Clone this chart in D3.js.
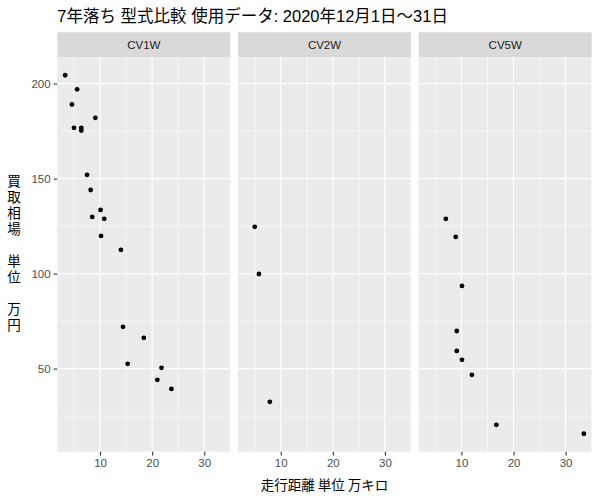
<!DOCTYPE html>
<html><head><meta charset="utf-8">
<script src="https://cdn.jsdelivr.net/npm/d3@7"></script>
<style>body{margin:0;background:#fff}</style></head>
<body><svg id="c" width="600" height="500"></svg>
<script>
// ---- data ----
const panelNames = ["CV1W", "CV2W", "CV5W"];
const cv1wDistance = [3.3, 5.6, 4.6, 9.1, 5.0, 6.4, 6.4, 7.5, 8.2, 10.1, 8.5, 10.8, 10.2, 14.0, 14.4, 18.4, 15.3, 21.8, 21.0, 23.7];
const cv1wPrice    = [204.4, 197, 189, 182, 176.7, 176.7, 175.3, 152, 144, 133.5, 129.8, 128.8, 119.8, 112.5, 72, 66.2, 52.5, 50.4, 44.1, 39.3];
const cv2wDistance = [5.0, 5.8, 7.9];
const cv2wPrice    = [124.6, 99.8, 32.5];
const cv5wDistance = [7.0, 8.9, 10.1, 9.1, 9.1, 10.1, 12.0, 16.7, 33.5];
const cv5wPrice    = [128.8, 119.3, 93.5, 69.8, 59.3, 54.6, 46.7, 20.4, 15.7];
const xTicks = [10, 20, 30];
const xMinor = [5, 15, 25, 35];
const yTicks = [50, 100, 150, 200];
const yMinor = [25, 75, 125, 175];
const titleText = "7年落ち 型式比較 使用データ: 2020年12月1日～31日";
const xTitle = "走行距離 単位 万キロ";
const yTitle = "買取相場\u3000単位\u3000万円";

const series = [
  {name: panelNames[0], xs: cv1wDistance, ys: cv1wPrice},
  {name: panelNames[1], xs: cv2wDistance, ys: cv2wPrice},
  {name: panelNames[2], xs: cv5wDistance, ys: cv5wPrice}
];

// ---- layout ----
const svg = d3.select("#c");
const plotL = 57.3, plotR = 591.7, gap = 7.7;
const pw = (plotR - plotL - 2 * gap) / 3;
const stripTop = 32.3, panelTop = 57.3, panelBottom = 451.7;
const fontLatin = "'Liberation Sans', Arial, 'Noto Sans CJK JP', sans-serif";
const fontJP = "'Noto Sans CJK JP', 'Liberation Sans', sans-serif";

const allX = series.flatMap(s => s.xs), allY = series.flatMap(s => s.ys);
function expand(ext) { const d = (ext[1] - ext[0]) * 0.05; return [ext[0] - d, ext[1] + d]; }
const x = d3.scaleLinear().domain(expand(d3.extent(allX))).range([0, pw]);
const y = d3.scaleLinear().domain(expand(d3.extent(allY))).range([panelBottom, panelTop]);

// title
svg.append("text").attr("x", plotL).attr("y", 22)
  .attr("font-family", fontLatin).attr("font-size", 16.5).attr("fill", "#000")
  .text(titleText);

series.forEach((s, i) => {
  const left = plotL + i * (pw + gap);
  const g = svg.append("g").attr("transform", `translate(${left},0)`);
  // strip
  g.append("rect").attr("x", 0).attr("y", stripTop).attr("width", pw).attr("height", panelTop - stripTop).attr("fill", "#D9D9D9");
  g.append("text").attr("x", pw / 2).attr("y", (stripTop + panelTop) / 2).attr("dy", "0.35em")
    .attr("text-anchor", "middle").attr("font-family", fontLatin).attr("font-size", 11.5).attr("fill", "#1A1A1A").text(s.name);
  // panel
  g.append("rect").attr("x", 0).attr("y", panelTop).attr("width", pw).attr("height", panelBottom - panelTop).attr("fill", "#EBEBEB");
  const xd = x.domain(), yd = y.domain();
  // minor grid
  g.selectAll(".ymin").data(yMinor.filter(v => v > yd[0] && v < yd[1])).join("line")
    .attr("x1", 0).attr("x2", pw).attr("y1", d => y(d)).attr("y2", d => y(d)).attr("stroke", "#fff").attr("stroke-width", 0.55);
  g.selectAll(".xmin").data(xMinor.filter(v => v > xd[0] && v < xd[1])).join("line")
    .attr("y1", panelTop).attr("y2", panelBottom).attr("x1", d => x(d)).attr("x2", d => x(d)).attr("stroke", "#fff").attr("stroke-width", 0.55);
  // major grid
  g.selectAll(".ymaj").data(yTicks).join("line")
    .attr("x1", 0).attr("x2", pw).attr("y1", d => y(d)).attr("y2", d => y(d)).attr("stroke", "#fff").attr("stroke-width", 1.1);
  g.selectAll(".xmaj").data(xTicks).join("line")
    .attr("y1", panelTop).attr("y2", panelBottom).attr("x1", d => x(d)).attr("x2", d => x(d)).attr("stroke", "#fff").attr("stroke-width", 1.1);
  // x axis
  const xa = g.append("g").attr("transform", `translate(0,${panelBottom})`)
    .call(d3.axisBottom(x).tickValues(xTicks).tickSize(3.7).tickPadding(3));
  xa.select(".domain").remove();
  xa.selectAll("line").attr("stroke", "#333").attr("stroke-width", 1.1);
  xa.selectAll("text").attr("font-family", fontLatin).attr("font-size", 11.5).attr("fill", "#4D4D4D");
  // y axis on first panel
  if (i === 0) {
    const ya = g.append("g").call(d3.axisLeft(y).tickValues(yTicks).tickSize(3.7).tickPadding(3));
    ya.select(".domain").remove();
    ya.selectAll("line").attr("stroke", "#333").attr("stroke-width", 1.1);
    ya.selectAll("text").attr("font-family", fontLatin).attr("font-size", 11.5).attr("fill", "#4D4D4D");
  }
  // points
  g.selectAll("circle").data(s.xs.map((v, k) => [v, s.ys[k]])).join("circle")
    .attr("cx", d => x(d[0])).attr("cy", d => y(d[1])).attr("r", 2.4).attr("fill", "#000");
});

// axis titles
svg.append("text").attr("x", (plotL + plotR) / 2).attr("y", 490)
  .attr("text-anchor", "middle").attr("font-family", fontJP).attr("font-size", 13.5).attr("fill", "#000").text(xTitle);
const yc = (panelTop + panelBottom) / 2;
svg.append("text").attr("x", 14).attr("y", yc)
  .attr("font-family", fontJP).attr("font-size", 13.5).attr("fill", "#000")
  .attr("text-anchor", "middle")
  .style("writing-mode", "vertical-rl").style("text-orientation", "upright").style("letter-spacing", "2.5px")
  .text(yTitle);
</script></body></html>
